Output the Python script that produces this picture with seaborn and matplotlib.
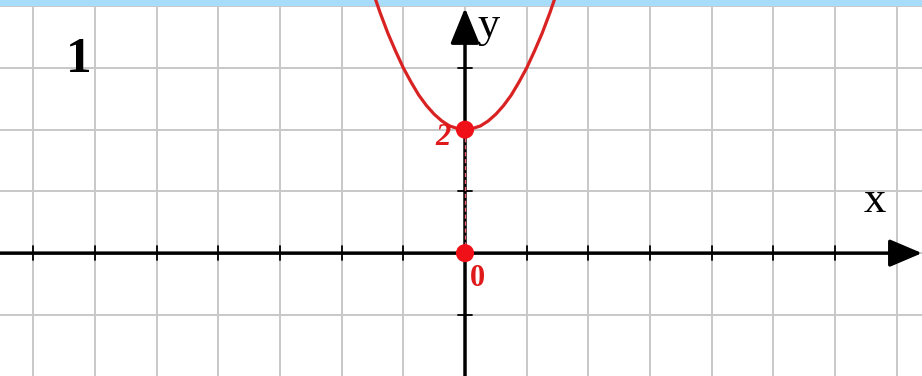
import matplotlib
matplotlib.use('Agg')
import matplotlib.pyplot as plt
import seaborn as sns
import pandas as pd

# Кривая y = x^2 + 2, точки
curve_x = [-1.5, -1.375, -1.25, -1.125, -1.0, -0.875, -0.75, -0.625, -0.5, -0.375, -0.25, -0.125, 0.0,
           0.125, 0.25, 0.375, 0.5, 0.625, 0.75, 0.875, 1.0, 1.125, 1.25, 1.375, 1.5]
curve_y = [4.25, 3.89, 3.56, 3.27, 3.0, 2.77, 2.56, 2.39, 2.25, 2.14, 2.06, 2.02, 2.0,
           2.02, 2.06, 2.14, 2.25, 2.39, 2.56, 2.77, 3.0, 3.27, 3.56, 3.89, 4.25]
point_x = [0, 0]
point_y = [0, 2]
point_labels = ['0', '2']
x_ticks = [-7, -6, -5, -4, -3, -2, -1, 1, 2, 3, 4, 5, 6, 7]
y_ticks = [-1, 1, 3]
grid_x = list(range(-7, 8))
grid_y = list(range(-1, 5))

sns.set_style('white')
plt.rcParams['font.family'] = ['Liberation Serif', 'DejaVu Serif']
plt.rcParams['text.color'] = 'black'

fig = plt.figure(figsize=(9.22, 3.76), dpi=100)
ax = fig.add_axes([0, 0, 1, 1])

x_min, x_max = -7.54, 7.41
y_min, y_max = -1.99, 4.10
ax.set_xlim(x_min, x_max)
ax.set_ylim(y_min, y_max)

for gx in grid_x:
    ax.axvline(gx, color='#c8c8c8', lw=1.4, zorder=1)
for gy in grid_y:
    ax.axhline(gy, color='#c8c8c8', lw=1.4, zorder=1)

# голубая полоса сверху
ax.axhspan(4.0, y_max, color='#a8dcfb', lw=0, zorder=2)

# оси со стрелками
ax.annotate('', xy=(x_max, 0), xytext=(x_min, 0),
            arrowprops=dict(arrowstyle='-|>,head_length=20,head_width=8.5', mutation_scale=1,
                            lw=2.5, color='black', shrinkA=0, shrinkB=0), zorder=3)
ax.annotate('', xy=(0, 3.97), xytext=(0, y_min),
            arrowprops=dict(arrowstyle='-|>,head_length=22,head_width=9', mutation_scale=1,
                            lw=2.5, color='black', shrinkA=0, shrinkB=0), zorder=3)

# засечки
for tx in x_ticks:
    ax.plot([tx, tx], [-0.11, 0.11], color='black', lw=1.3, zorder=3)
for ty in y_ticks:
    ax.plot([-0.11, 0.11], [ty, ty], color='black', lw=1.3, zorder=3)

for side in ['left', 'right', 'top', 'bottom']:
    ax.spines[side].set_visible(False)
ax.set_xticks([])
ax.set_yticks([])

df = pd.DataFrame({'x': curve_x, 'y': curve_y})
sns.lineplot(data=df, x='x', y='y', ax=ax, color='#d92222', lw=2.3, estimator=None, sort=False, zorder=4)

ax.plot(point_x, point_y, color='#f06070', lw=1, ls=(0, (3, 2)), zorder=4)
sns.scatterplot(x=point_x, y=point_y, ax=ax, color='#f01018', s=170, edgecolor='none', zorder=5)

ax.text(0.2, -0.41, point_labels[0], color='#e01a1a', fontsize=22, fontweight='bold',
        ha='center', va='center', zorder=6)
ax.text(-0.36, 1.88, point_labels[1], color='#e01a1a', fontsize=22, fontweight='bold', style='italic',
        ha='center', va='center', zorder=6)

ax.text(-6.26, 3.13, '1', color='black', fontsize=37, fontweight='bold', ha='center', va='center', zorder=6)
ax.text(0.21, 3.68, 'y', color='black', fontsize=32, ha='left', va='center', zorder=6)
ax.text(6.65, 0.84, 'x', color='black', fontsize=32, ha='center', va='center', zorder=6)

ax.set_xlabel('')
ax.set_ylabel('')
fig.savefig('out.png', dpi=100)
plt.close(fig)
